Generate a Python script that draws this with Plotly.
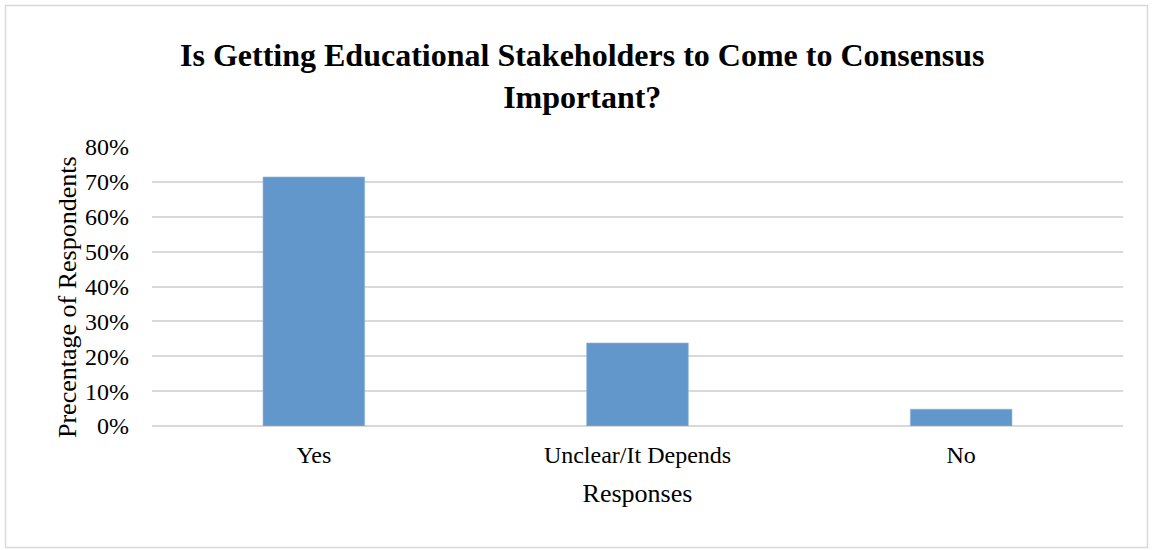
import plotly.graph_objects as go

categories = ["Yes", "Unclear/It Depends", "No"]
shares = [0.714, 0.238, 0.048]
y_ticks = [0, 0.1, 0.2, 0.3, 0.4, 0.5, 0.6, 0.7, 0.8]
y_tick_labels = ["0%", "10%", "20%", "30%", "40%", "50%", "60%", "70%", "80%"]

W, H = 1153, 550
M = dict(l=152, r=30, t=147, b=124)
SERIF = "Liberation Serif, Times New Roman, serif"
GRID = "#d9d9d9"

fig = go.Figure(
    go.Bar(
        x=categories,
        y=shares,
        marker=dict(color="#6197ca", line=dict(color="#8fb6dd", width=0.6)),
        hoverinfo="x+y",
    )
)

# helpers to express pixel positions in paper coordinates
pw = W - M["l"] - M["r"]
ph = H - M["t"] - M["b"]
def px_x(v):
    return (v - M["l"]) / pw
def px_y(v):
    return (H - M["b"] - v) / ph

# outer frame around the whole chart
fig.add_shape(
    type="rect", xref="paper", yref="paper",
    x0=px_x(5.5), x1=px_x(1147.5), y0=px_y(547.5), y1=px_y(5.5),
    line=dict(color=GRID, width=1.5), fillcolor="rgba(0,0,0,0)", layer="below",
)

# vertical axis title
fig.add_annotation(
    text="Precentage of Respondents", textangle=-90,
    xref="paper", yref="paper", x=px_x(67), y=px_y(297),
    xanchor="center", yanchor="middle", showarrow=False,
    font=dict(family=SERIF, size=26, color="#000000"),
)

fig.update_layout(
    width=W, height=H,
    margin=M,
    paper_bgcolor="white", plot_bgcolor="white",
    bargap=0.686,
    showlegend=False,
    font=dict(family=SERIF, color="#000000", size=24),
    title=dict(
        text="<b>Is Getting Educational Stakeholders to Come to Consensus<br>Important?</b>",
        x=0.505, xref="container", xanchor="center",
        y=0.88, yref="container", yanchor="top",
        font=dict(family=SERIF, size=32, color="#000000"),
    ),
    xaxis=dict(
        showgrid=False, zeroline=False, showline=False,
        ticks="", tickfont=dict(size=24), ticklabelstandoff=12,
        title=dict(text="Responses", font=dict(size=26), standoff=16),
    ),
    yaxis=dict(
        range=[0, 0.8], tickvals=y_ticks, ticktext=y_tick_labels,
        showgrid=True, gridcolor=GRID, gridwidth=1.5,
        zeroline=True, zerolinecolor=GRID, zerolinewidth=1.5,
        showline=False, ticks="", ticklabelstandoff=22,
        tickfont=dict(size=24),
    ),
)

fig.write_html("out.html")
